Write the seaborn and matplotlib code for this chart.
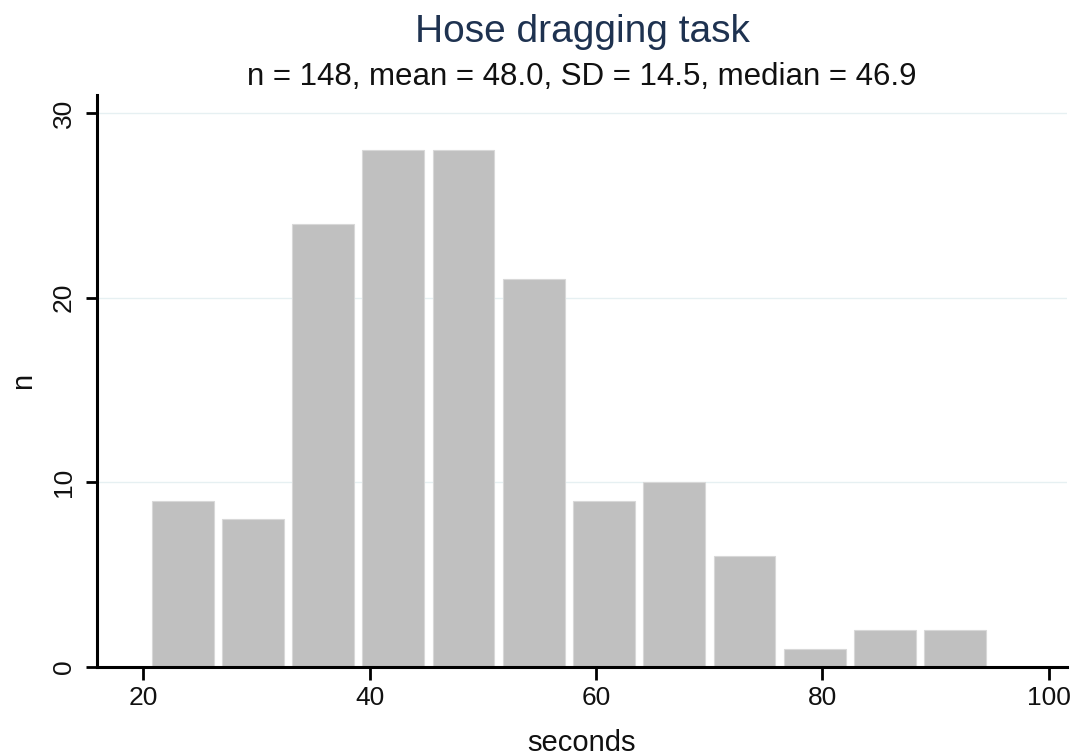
import matplotlib
matplotlib.use("Agg")
import matplotlib.pyplot as plt
import seaborn as sns
import numpy as np
import pandas as pd

# Data
bin_start = 20.37
bin_width = 6.204
counts = [9, 8, 24, 28, 28, 21, 9, 10, 6, 1, 2, 2]
x_ticks = [20, 40, 60, 80, 100]
y_ticks = [0, 10, 20, 30]
title = "Hose dragging task"
subtitle = "n = 148, mean = 48.0, SD = 14.5, median = 46.9"
xlabel = "seconds"
ylabel = "n"

sns.set_style("white")
plt.rcParams['font.family'] = ['Liberation Sans', 'DejaVu Sans']

nb = len(counts)
edges = bin_start + bin_width * np.arange(nb + 1)
centers = (edges[:-1] + edges[1:]) / 2
df = pd.DataFrame({"seconds": centers, "n": counts})

fig = plt.figure(figsize=(10.76, 7.56), dpi=100)
ax = fig.add_axes([0.0901, 0.1177, 0.9015, 0.7566])

for yv in y_ticks[1:]:
    ax.axhline(yv, color="#e6f0f2", lw=1.0, zorder=0)

sns.histplot(data=df, x="seconds", weights="n", bins=nb,
             binrange=(float(edges[0]), float(edges[-1])), shrink=0.88,
             color="#c0c0c0", edgecolor="#d8d8d8", linewidth=0.8, alpha=1.0,
             ax=ax, zorder=2)

ax.set_xlim(15.9, 101.6)
ax.set_ylim(0, 30.97)
ax.set_xticks(x_ticks)
ax.set_yticks(y_ticks)
ax.set_xticklabels([str(v) for v in x_ticks], fontsize=19)
ax.set_yticklabels([str(v) for v in y_ticks], fontsize=19, rotation=90, va="center")
ax.tick_params(axis="x", length=9, width=2, color="black", pad=5, labelcolor="#111111")
ax.tick_params(axis="y", length=8, width=2, color="black", pad=7, labelcolor="#111111")
ax.tick_params(bottom=True, left=True)

for s in ["top", "right"]:
    ax.spines[s].set_visible(False)
for s in ["left", "bottom"]:
    ax.spines[s].set_linewidth(2.2)
    ax.spines[s].set_color("black")

ax.set_xlabel(xlabel, fontsize=21, color="#111111", labelpad=13)
ax.set_ylabel(ylabel, fontsize=21, color="#111111", labelpad=11)

fig.text(0.541, 0.9444, title, ha="center", va="baseline", fontsize=28, color="#1e3250")
fig.text(0.541, 0.8876, subtitle, ha="center", va="baseline", fontsize=22.5, color="#111111")

fig.savefig("out.png", dpi=100)
